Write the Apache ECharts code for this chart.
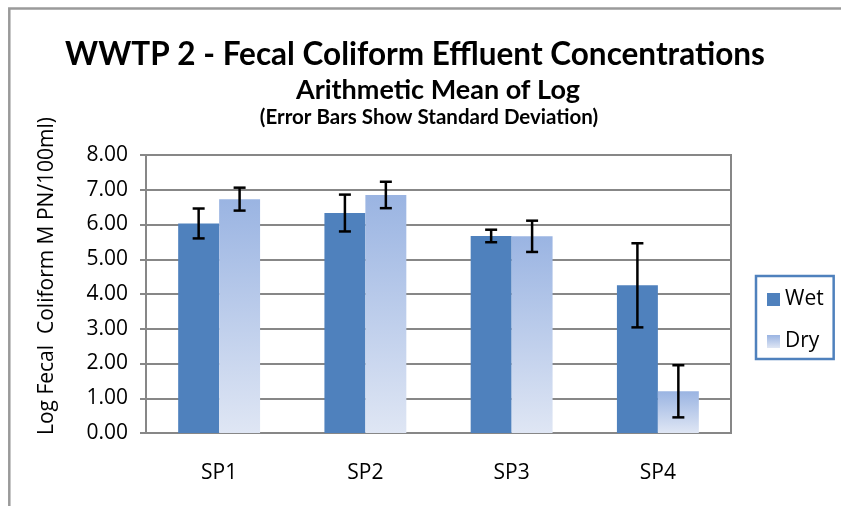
<!DOCTYPE html>
<html>
<head>
<meta charset="utf-8">
<script src="https://cdn.jsdelivr.net/npm/echarts@6/dist/echarts.min.js"></script>
<style>
  html, body { margin: 0; padding: 0; background: #fff; }
  #chart { width: 841px; height: 506px; }
</style>
</head>
<body>
<div id="chart"></div>
<script>
// Log fecal coliform means per sample point, wet vs dry weather, with SD.
const categories = ["SP1", "SP2", "SP3", "SP4"];
const wetMean = [6.03, 6.33, 5.67, 4.25];
const wetSD = [0.43, 0.53, 0.18, 1.21];
const dryMean = [6.73, 6.85, 5.66, 1.20];
const drySD = [0.33, 0.38, 0.45, 0.75];
const yTicks = { min: 0, max: 8, interval: 1 };

const WET = "#4f81bd";
const GRID = "#878787";
const FONT = "'Open Sans', sans-serif";
const TITLE_FONT = "Lato, 'Open Sans', sans-serif";

const chart = echarts.init(document.getElementById("chart"), null, { renderer: "canvas" });

// error bar drawn as I-beam, shifted to the left/right bar of the group
function errorBar(side) {
  return function (params, api) {
    const i = api.value(0);
    const lo = api.coord([i, api.value(1)]);
    const hi = api.coord([i, api.value(2)]);
    const bandW = api.size([1, 0])[0];
    const x = lo[0] + side * bandW * 0.14;
    const cap = 6;
    const style = { stroke: "#000", lineWidth: 2.5 };
    return {
      type: "group",
      children: [
        { type: "line", shape: { x1: x, y1: hi[1], x2: x, y2: lo[1] }, style },
        { type: "line", shape: { x1: x - cap, y1: hi[1], x2: x + cap, y2: hi[1] }, style },
        { type: "line", shape: { x1: x - cap, y1: lo[1], x2: x + cap, y2: lo[1] }, style },
      ],
    };
  };
}

const errData = (mean, sd) => mean.map((m, i) => [i, m - sd[i], m + sd[i]]);

chart.setOption({
  animation: false,
  backgroundColor: "#fff",
  textStyle: { fontFamily: FONT },
  title: [
    {
      text: "WWTP 2 - Fecal Coliform Effluent Concentrations",
      left: 410, top: 34, textAlign: "center",
      textStyle: { fontFamily: TITLE_FONT, fontSize: 31.5, fontWeight: "bold", color: "#000" },
    },
    {
      text: "Arithmetic Mean of Log",
      left: 433, top: 72, textAlign: "center",
      textStyle: { fontFamily: TITLE_FONT, fontSize: 27, fontWeight: "bold", color: "#000" },
    },
    {
      text: "(Error Bars Show Standard Deviation)",
      left: 424, top: 102, textAlign: "center",
      textStyle: { fontFamily: TITLE_FONT, fontSize: 20.5, fontWeight: "bold", color: "#000" },
    },
  ],
  graphic: [
    {
      type: "rect",
      shape: { x: 9.3, y: 8.5, width: 900, height: 600 },
      style: { fill: "none", stroke: "#9a9a9a", lineWidth: 2.5 },
      silent: true,
    },
  ],
  legend: {
    data: ["Wet", "Dry"],
    orient: "vertical",
    left: 756,
    top: 276,
    padding: [13, 10, 7, 11],
    itemWidth: 13,
    itemHeight: 13,
    itemGap: 21,
    icon: "rect",
    borderColor: WET,
    borderWidth: 2.5,
    textStyle: { fontFamily: FONT, fontSize: 21, color: "#000" },
  },
  grid: { left: 146, right: 110, top: 155, bottom: 73, show: true, borderColor: GRID, borderWidth: 2 },
  xAxis: {
    type: "category",
    data: categories,
    axisLine: { lineStyle: { color: GRID, width: 2 } },
    axisTick: { length: 7, lineStyle: { color: GRID, width: 2 } },
    axisLabel: { color: "#000", fontSize: 21, margin: 30 },
  },
  yAxis: {
    type: "value",
    min: yTicks.min,
    max: yTicks.max,
    interval: yTicks.interval,
    name: "Log Fecal  Coliform M PN/100ml)",
    nameLocation: "middle",
    nameGap: 88,
    nameTextStyle: { color: "#000", fontSize: 21, padding: [0, 0, 0, 36] },
    axisLine: { show: true, lineStyle: { color: GRID, width: 2 } },
    axisTick: { show: true, length: 6, lineStyle: { color: GRID, width: 2 } },
    axisLabel: { color: "#000", fontSize: 21, margin: 18, formatter: (v) => v.toFixed(2) },
    splitLine: { lineStyle: { color: GRID, width: 2 } },
  },
  series: [
    {
      name: "Wet",
      type: "bar",
      barGap: "0%",
      barCategoryGap: "44%",
      itemStyle: { color: WET },
      data: wetMean,
    },
    {
      name: "Dry",
      type: "bar",
      barGap: "0%",
      barCategoryGap: "44%",
      itemStyle: {
        color: new echarts.graphic.LinearGradient(0, 0, 0, 1, [
          { offset: 0, color: "#9ab4e2" },
          { offset: 1, color: "#dfe6f4" },
        ]),
      },
      data: dryMean,
    },
    {
      name: "Wet SD",
      type: "custom",
      z: 5,
      renderItem: errorBar(-1),
      encode: { x: 0, y: [1, 2] },
      data: errData(wetMean, wetSD),
    },
    {
      name: "Dry SD",
      type: "custom",
      z: 5,
      renderItem: errorBar(1),
      encode: { x: 0, y: [1, 2] },
      data: errData(dryMean, drySD),
    },
  ],
});
</script>
</body>
</html>
